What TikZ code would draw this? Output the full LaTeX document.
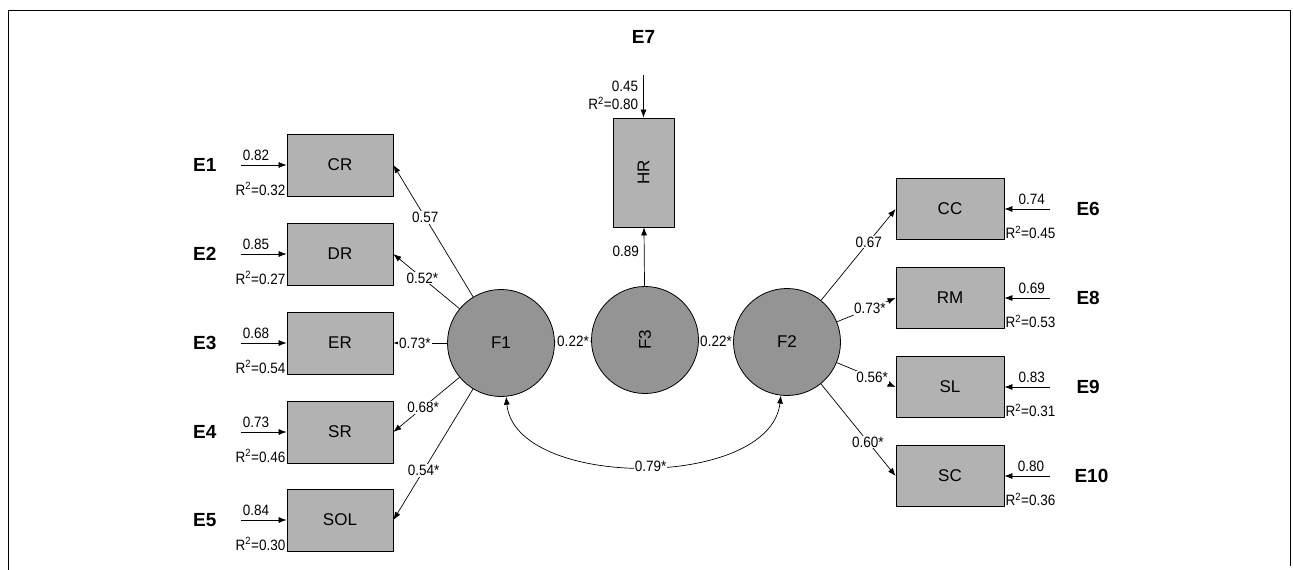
\documentclass[tikz,border=0pt]{standalone}
\usepackage{fontspec}
\setmainfont{Liberation Sans}
\newfontfamily\narrowfont[FakeStretch=0.9]{Liberation Sans}
\usetikzlibrary{arrows.meta}

\begin{document}
\begin{tikzpicture}[
    x={(1pt,0pt)},
    y={(0pt,-1pt)},
    line join=round,
    >={Latex[length=8pt,width=6pt]},
    obsbox/.style={draw, line width=0.8pt, fill=black!30, inner sep=0pt,
        minimum width=106pt, minimum height=62pt, font=\fontsize{17}{20}\selectfont},
    latcirc/.style={draw, circle, line width=0.8pt, fill=black!42, inner sep=0pt,
        minimum size=107pt, font=\fontsize{17}{20}\selectfont},
    errlab/.style={font=\bfseries\fontsize{19}{22}\selectfont},
    coef/.style={font=\narrowfont\fontsize{15}{17}\selectfont, inner sep=1pt},
    oncoef/.style={coef, fill=white},
    load/.style={->, line width=0.7pt},
    errleft/.style={->, line width=0.7pt, shorten <=21pt},
    errright/.style={->, line width=0.7pt, shorten <=23pt}
]
    % 边框
    \useasboundingbox (0,0) rectangle (1293,570);
    \draw[line width=1pt] (8,570) -- (8,10) -- (1290,10) -- (1290,566);

    % 潜变量
    \node[latcirc] (F1) at (501,343) {F1};
    \node[latcirc] (F3) at (645,340) {\rotatebox{90}{F3}};
    \node[latcirc] (F2) at (787,342) {F2};

    % 左侧观测变量
    \node[obsbox] (CR) at (340,165) {CR};
    \node[obsbox] (DR) at (340,254) {DR};
    \node[obsbox] (ER) at (340,343) {ER};
    \node[obsbox] (SR) at (340,432) {SR};
    \node[obsbox] (SOL) at (340,520) {SOL};

    % 右侧观测变量
    \node[obsbox, minimum width=108pt, minimum height=61pt] (CC) at (950,209) {CC};
    \node[obsbox, minimum width=108pt, minimum height=61pt] (RM) at (950,298) {RM};
    \node[obsbox, minimum width=108pt, minimum height=61pt] (SL) at (950,387) {SL};
    \node[obsbox, minimum width=108pt, minimum height=61pt] (SC) at (950,476) {SC};

    % 上方观测变量
    \node[obsbox, minimum width=61pt, minimum height=109pt] (HR) at (643.5,172.5) {\rotatebox{90}{HR}};

    % 误差项
    \node[errlab, anchor=east] (E1) at (220,165) {E1};
    \node[errlab, anchor=east] (E2) at (220,254) {E2};
    \node[errlab, anchor=east] (E3) at (220,343) {E3};
    \node[errlab, anchor=east] (E4) at (220,432) {E4};
    \node[errlab, anchor=east] (E5) at (220,520) {E5};
    \node[errlab, anchor=west] (E6) at (1073,209) {E6};
    \node[errlab, anchor=west] (E8) at (1073,298) {E8};
    \node[errlab, anchor=west] (E9) at (1073,387) {E9};
    \node[errlab, anchor=west] (E10) at (1071,476) {E10};
    \node[errlab] (E7) at (643.5,37) {E7};

    % 误差箭头与 R^2
    \draw[errleft] (E1) -- (CR) node[coef, above=3pt, pos=0.54] {0.82};
    \draw[errleft] (E2) -- (DR) node[coef, above=3pt, pos=0.54] {0.85};
    \draw[errleft] (E3) -- (ER) node[coef, above=3pt, pos=0.54] {0.68};
    \draw[errleft] (E4) -- (SR) node[coef, above=3pt, pos=0.54] {0.73};
    \draw[errleft] (E5) -- (SOL) node[coef, above=3pt, pos=0.54] {0.84};
    \node[coef, anchor=south east] at (CR.south west) {R\textsuperscript{2}=0.32};
    \node[coef, anchor=south east] at (DR.south west) {R\textsuperscript{2}=0.27};
    \node[coef, anchor=south east] at (ER.south west) {R\textsuperscript{2}=0.54};
    \node[coef, anchor=south east] at (SR.south west) {R\textsuperscript{2}=0.46};
    \node[coef, anchor=south east] at (SOL.south west) {R\textsuperscript{2}=0.30};

    \draw[errright] (E6) -- (CC) node[coef, above=3pt, pos=0.6] {0.74};
    \draw[errright] (E8) -- (RM) node[coef, above=3pt, pos=0.6] {0.69};
    \draw[errright] (E9) -- (SL) node[coef, above=3pt, pos=0.6] {0.83};
    \draw[errright, shorten <=21pt] (E10) -- (SC) node[coef, above=3pt, pos=0.6] {0.80};
    \node[coef, anchor=south west] at (CC.south east) {R\textsuperscript{2}=0.45};
    \node[coef, anchor=south west] at (RM.south east) {R\textsuperscript{2}=0.53};
    \node[coef, anchor=south west] at (SL.south east) {R\textsuperscript{2}=0.31};
    \node[coef, anchor=south west] at (SC.south east) {R\textsuperscript{2}=0.36};

    \draw[load, shorten <=28pt] (E7) -- (HR)
        node[coef, left=4pt, pos=0.55] {0.45}
        node[coef, left=4pt, pos=0.8] {R\textsuperscript{2}=0.80};

    % 因子载荷
    \draw[load] (F1) -- (CR.east) node[oncoef, pos=0.6] {0.57};
    \draw[load] (F1) -- (DR.east) node[oncoef, pos=0.56] {0.52*};
    \draw[load] (F1) -- (ER.east) node[oncoef, pos=0.6] {0.73*};
    \draw[load] (F1) -- (SR.east) node[oncoef, pos=0.55] {0.68*};
    \draw[load] (F1) -- (SOL.east) node[oncoef, pos=0.62] {0.54*};

    \draw[load] (F2) -- (CC.west) node[oncoef, pos=0.64] {0.67};
    \draw[load] (F2) -- (RM.west) node[oncoef, pos=0.56] {0.73*};
    \draw[load] (F2) -- (SL.west) node[oncoef, pos=0.6] {0.56*};
    \draw[load] (F2) -- (SC.west) node[oncoef, pos=0.63] {0.60*};

    \draw[load] (F3) -- (HR) node[coef, left=4pt, pos=0.6] {0.89};

    % 因子间关系
    \draw[load] (F3) -- (F1) node[oncoef, midway] {0.22*};
    \draw[load] (F2) -- (F3) node[oncoef, midway] {0.22*};
    \draw[<->, line width=0.7pt] (F1) .. controls (515,490) and (770,490) .. (F2)
        node[oncoef, pos=0.52] {0.79*};

\end{tikzpicture}
\end{document}
